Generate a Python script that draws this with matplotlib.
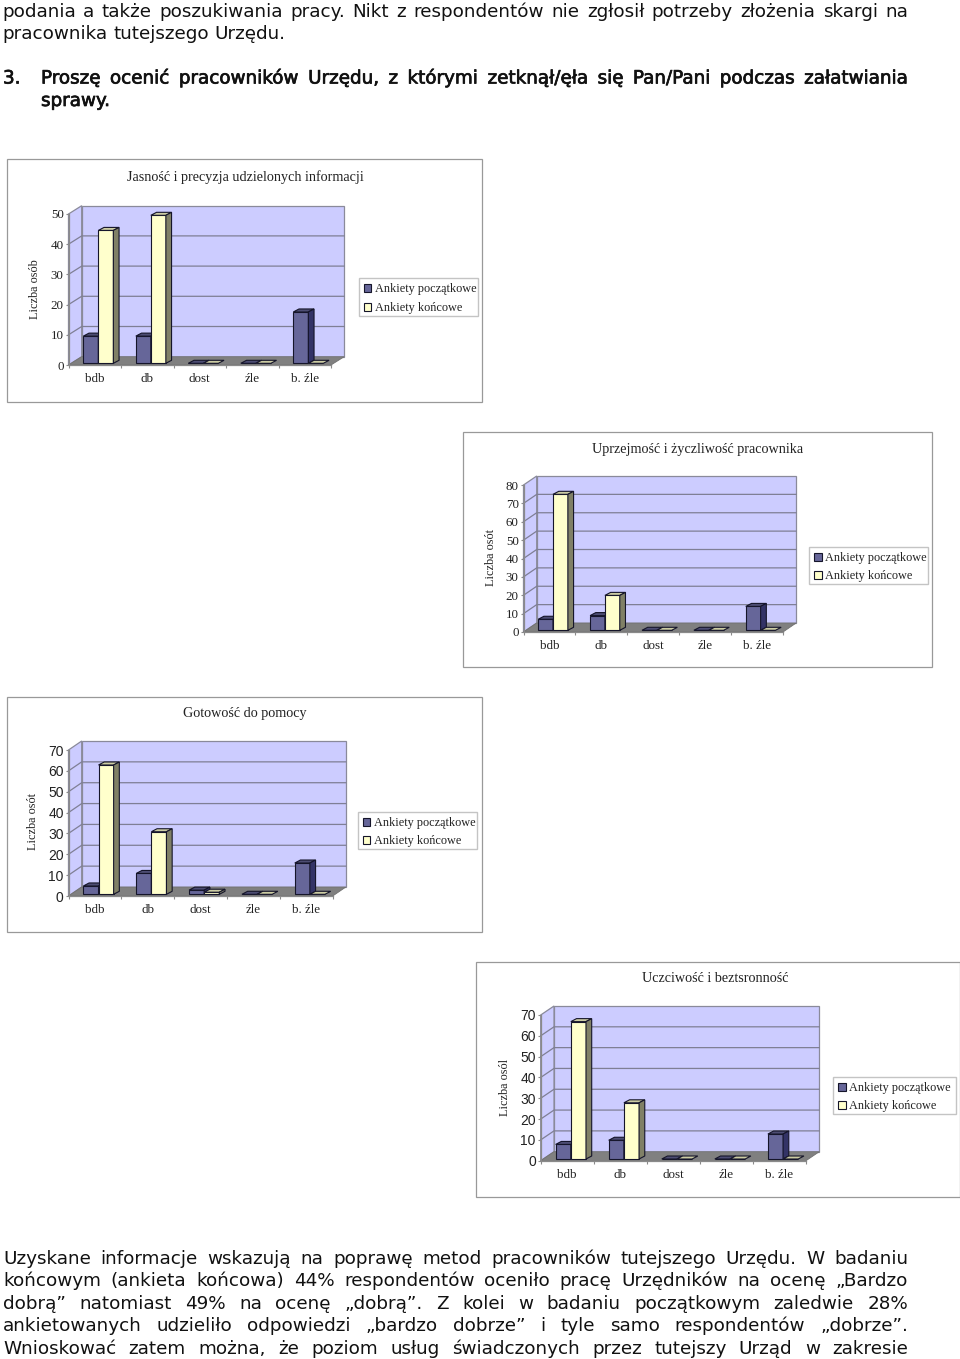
import matplotlib
matplotlib.use('Agg')
import matplotlib.pyplot as plt
from matplotlib.patches import Polygon, Rectangle
import matplotlib.patheffects as pe

# Data
categories = ['bdb', 'db', 'dost', 'źle', 'b. źle']
series_names = ['Ankiety początkowe', 'Ankiety końcowe']

jasnosc_pocz = [9, 9, 0, 0, 17]
jasnosc_kon = [44, 49, 0, 0, 0]
uprzejmosc_pocz = [6, 8, 0, 0, 13]
uprzejmosc_kon = [74, 19, 0, 0, 0]
gotowosc_pocz = [4, 10, 2, 0, 15]
gotowosc_kon = [62, 30, 1, 0, 0]
uczciwosc_pocz = [7, 9, 0, 0, 12]
uczciwosc_kon = [66, 27, 0, 0, 0]

text_top = [
    'podania a także poszukiwania pracy. Nikt z respondentów nie zgłosił potrzeby złożenia skargi na',
    'pracownika tutejszego Urzędu.',
]
text_q = ['Proszę ocenić pracowników Urzędu, z którymi zetknął/ęła się Pan/Pani podczas załatwiania', 'sprawy.']
text_bottom = [
    'Uzyskane informacje wskazują na poprawę metod pracowników tutejszego Urzędu. W badaniu',
    'końcowym (ankieta końcowa) 44% respondentów oceniło pracę Urzędników na ocenę „Bardzo',
    'dobrą” natomiast 49% na ocenę „dobrą”.  Z kolei w badaniu początkowym zaledwie 28%',
    'ankietowanych udzieliło odpowiedzi „bardzo dobrze” i tyle samo respondentów „dobrze”.',
    'Wnioskować zatem można, że poziom usług świadczonych przez tutejszy Urząd w zakresie',
]

W, H = 960, 1359
fig = plt.figure(figsize=(W / 100, H / 100), dpi=100, facecolor='white')
bg = fig.add_axes([0, 0, 1, 1])
bg.set_xlim(0, W)
bg.set_ylim(H, 0)
bg.axis('off')

BODY = 'DejaVu Sans'
SERIF = 'Liberation Serif'
SANS = 'Liberation Sans'
BODY_SIZE = 13.2
renderer = fig.canvas.get_renderer()


def justified(words_line, x0, x1, y, justify=True, **kw):
    words = words_line.split()
    items = [bg.text(x0, y, w, va='baseline', ha='left', family=BODY, fontsize=BODY_SIZE, color='#111111', **kw) for w in words]
    widths = [t.get_window_extent(renderer).width for t in items]
    if justify and len(words) > 1:
        gap = (x1 - x0 - sum(widths)) / (len(words) - 1)
    else:
        gap = 5.9
    x = x0
    for t, w_ in zip(items, widths):
        t.set_x(x)
        x += w_ + gap


def chart(box, front, back, ymax, step, pocz, kon, title, title_xy, ylabel, ylabel_xy, legend_box, tick_font):
    # box, front, back: left, right, top, bottom in pixels
    bg.add_patch(Rectangle((box[0], box[2]), box[1] - box[0], box[3] - box[2], fc='white', ec='#999999', lw=0.9, clip_on=False))
    bg.text(title_xy[0], title_xy[1] + 1, title, ha='center', va='center', family=SERIF, fontsize=10.2, color='#222222')

    left, right, top, bottom = front
    ax = fig.add_axes([left / W, 1 - bottom / H, (right - left) / W, (bottom - top) / H])
    ax.set_xlim(0, len(categories))
    ax.set_ylim(0, ymax)
    ax.patch.set_visible(False)

    sx = len(categories) / (right - left)
    sy = ymax / (bottom - top)
    dx = (back[0] - left) * sx
    dy = (bottom - back[3]) * sy
    wall_w = len(categories)

    # back wall, side wall, floor
    ax.add_patch(Polygon([(dx, dy), (wall_w + dx, dy), (wall_w + dx, ymax + dy), (dx, ymax + dy)],
                         fc='#CCCCFF', ec='#8a8a9a', lw=0.9, clip_on=False, zorder=1))
    ax.add_patch(Polygon([(0, 0), (dx, dy), (dx, ymax + dy), (0, ymax)],
                         fc='#CCCCFF', ec='#8a8a9a', lw=0.9, clip_on=False, zorder=1))
    ax.add_patch(Polygon([(0, 0), (wall_w, 0), (wall_w + dx, dy), (dx, dy)],
                         fc='#808080', ec='#707070', lw=0.6, clip_on=False, zorder=1.5))
    for v in range(step, ymax, step):
        ax.plot([0, dx, wall_w + dx], [v, v + dy, v + dy], color='#7f7f95', lw=0.9, zorder=1.2, clip_on=False)

    # bars with a little 3d box
    bw = 0.286
    off_x = 2.8 * sx
    off_y = 1.7 * sy
    bx = 5.7 * sx
    by = 3.0 * sy
    series = [(pocz, 0.229, '#666699', '#4d4d73', '#333366'), (kon, 0.515, '#FFFFCC', '#CCCCA3', '#808066')]
    for i in range(len(categories)):
        for j, (vals, start, face, topc, sidec) in enumerate(series):
            x0 = i + start + off_x
            v = vals[i]
            z = 3 + i + j * 0.1
            ax.bar(x0, v, bw, bottom=off_y, align='edge', color=face, edgecolor='#15152a', lw=0.8, zorder=z, clip_on=False)
            y1 = v + off_y
            ax.add_patch(Polygon([(x0, y1), (x0 + bw, y1), (x0 + bw + bx, y1 + by), (x0 + bx, y1 + by)],
                                 fc=topc, ec='#15152a', lw=0.8, clip_on=False, zorder=z))
            if v > 0:
                ax.add_patch(Polygon([(x0 + bw, off_y), (x0 + bw + bx, off_y + by), (x0 + bw + bx, y1 + by), (x0 + bw, y1)],
                                     fc=sidec, ec='#15152a', lw=0.8, clip_on=False, zorder=z))

    for s in ['top', 'right']:
        ax.spines[s].set_visible(False)
    for s in ['left', 'bottom']:
        ax.spines[s].set_color('#8a8a8a')
        ax.spines[s].set_linewidth(0.9)
        ax.spines[s].set_zorder(2)

    ax.set_yticks(range(0, ymax + 1, step))
    ax.set_xticks([i + 0.5 for i in range(len(categories))])
    ax.set_xticks(range(len(categories) + 1), minor=True)
    ax.set_xticklabels(categories, family=SERIF, fontsize=9.4, color='#222222')
    ax.tick_params(axis='x', which='major', length=0, pad=6)
    ax.tick_params(axis='x', which='minor', length=2.5, color='#8a8a8a', width=0.8)
    ax.tick_params(axis='y', length=2.5, color='#8a8a8a', width=0.8, pad=1.0, labelcolor='#222222')
    for lab in ax.get_yticklabels():
        lab.set_family(tick_font)
        lab.set_fontsize(9.4 if tick_font == SERIF else 10)

    bg.text(ylabel_xy[0] + 1, ylabel_xy[1], ylabel, rotation=90, ha='center', va='center', family=SERIF, fontsize=8.8, color='#222222')

    # legend
    lx0, lx1, ly0, ly1 = legend_box
    bg.add_patch(Rectangle((lx0, ly0), lx1 - lx0, ly1 - ly0, fc='white', ec='#c4c4c4', lw=1.0, clip_on=False, zorder=5))
    for k, (name, (vals, start, face, topc, sidec)) in enumerate(zip(series_names, series)):
        yy = ly0 + (ly1 - ly0) * (0.26 + 0.49 * k)
        bg.add_patch(Rectangle((lx0 + 5, yy - 3.5), 7.5, 7.5, fc=face, ec='#15152a', lw=0.8, clip_on=False, zorder=6))
        bg.text(lx0 + 16, yy + 1, name, va='center', ha='left', family=SERIF, fontsize=8.8, color='#222222', zorder=6)


chart((7, 482, 159, 402), (68.5, 331, 214, 365), (81.7, 344, 206, 356.7), 50, 10,
      jasnosc_pocz, jasnosc_kon, 'Jasność i precyzja udzielonych informacji', (245, 176.5),
      'Liczba osób', (34, 289), (358.7, 478, 278, 316), SERIF)
chart((463, 932, 432, 667), (523.5, 783, 485, 632), (536.7, 795.7, 476.7, 623), 80, 10,
      uprzejmosc_pocz, uprzejmosc_kon, 'Uprzejmość i życzliwość pracownika', (698, 448),
      'Liczba osót', (490, 558), (809, 928, 547, 584), SERIF)
chart((7, 481.7, 697, 932), (68.5, 332.7, 750, 896), (81.7, 345.7, 741, 887), 70, 10,
      gotowosc_pocz, gotowosc_kon, 'Gotowość do pomocy', (245, 713),
      'Liczba osót', (32, 822), (357.7, 477.3, 812, 849), SANS)
chart((476, 960, 962, 1197), (540.7, 806, 1015, 1160.7), (554, 818.7, 1006.7, 1151.7), 70, 10,
      uczciwosc_pocz, uczciwosc_kon, 'Uczciwość i beztsronność', (715, 977),
      'Liczba osól', (504, 1087), (833, 956, 1077, 1114), SANS)

justified(text_top[0], 2, 908, 17)
justified(text_top[1], 2, 908, 39, justify=False)
stroke = [pe.withStroke(linewidth=0.5, foreground='#111111')]
bg.text(3, 83.5, '3.', va='baseline', ha='left', family=BODY, fontsize=BODY_SIZE, color='#111111', path_effects=stroke)
justified(text_q[0], 41, 908, 83.5, path_effects=stroke)
justified(text_q[1], 41, 908, 106, justify=False, path_effects=stroke)
for line, y in zip(text_bottom, [1264, 1286.5, 1309, 1331, 1353.5]):
    justified(line, 3, 908, y)

fig.savefig('out.png', dpi=100)
